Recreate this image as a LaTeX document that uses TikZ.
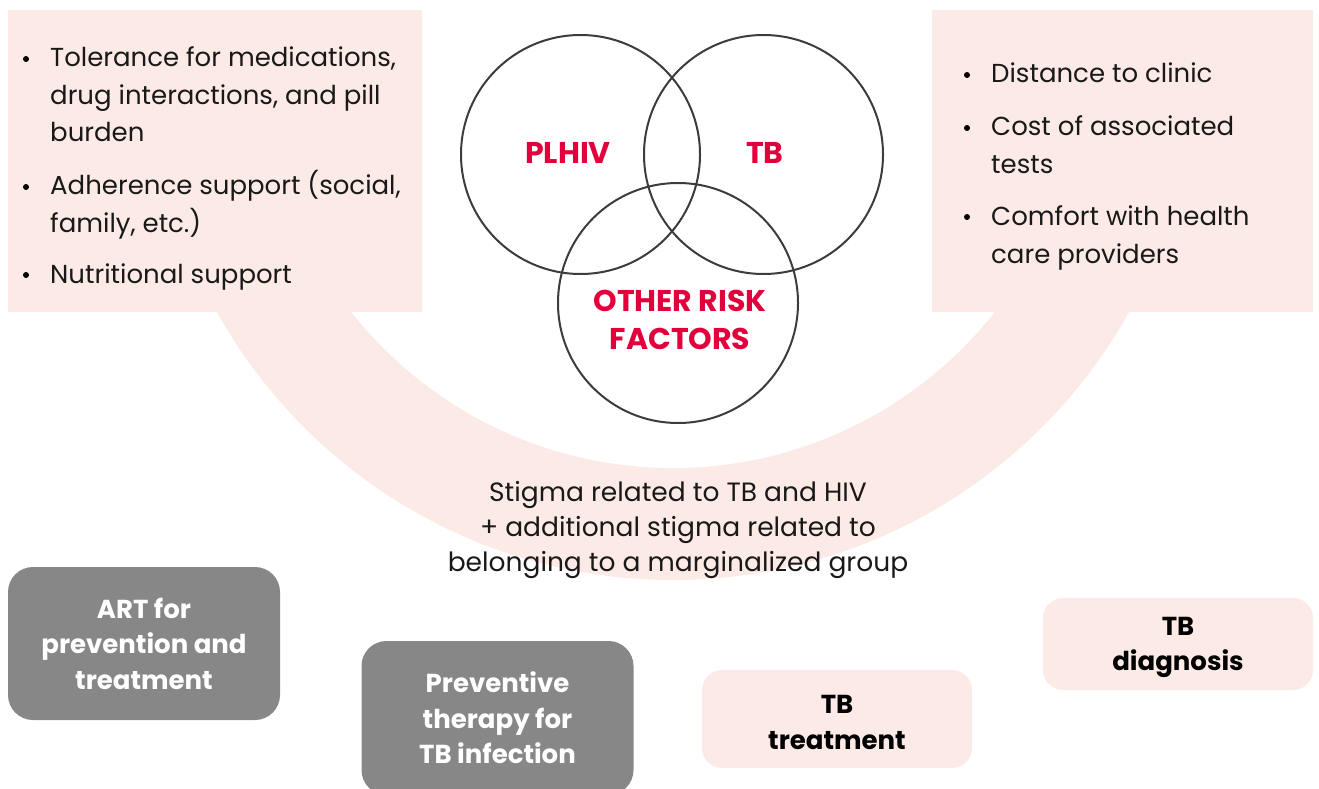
\documentclass[tikz,border=0pt]{standalone}
\usepackage{fontspec}
\setmainfont{Poppins}

\definecolor{blush}{HTML}{FCEAE6}
\definecolor{slate}{HTML}{878787}
\definecolor{crimson}{HTML}{E2003C}
\definecolor{ink}{HTML}{3C3C3C}

\tikzset{
    item/.style={anchor=base west, align=left, inner sep=0pt, text=black!90,
        font=\fontsize{26}{37.5}\selectfont},
    risk/.style={text=crimson, align=center, inner sep=0pt,
        font=\bfseries\fontsize{30}{38}\selectfont},
    venn/.style={draw=ink, line width=2pt},
    graybox/.style={fill=slate, rounded corners=25pt, text=white, align=center,
        minimum width=272pt, font=\bfseries\fontsize{26}{35.5}\selectfont},
    pinkbox/.style={fill=blush, rounded corners=20pt, text=black, align=center,
        minimum width=270pt, font=\bfseries\fontsize{26}{35.5}\selectfont},
}

\begin{document}
\begin{tikzpicture}[x=1pt, y=-1pt]
        \useasboundingbox (0,0) rectangle (1319,789);

        % stigma band, lower half of a ring
        \coordinate (hub) at (673,58);
        \begin{scope}
            \clip (0,200) rectangle (1319,789);
            \fill[blush, even odd rule] (hub) circle[radius=522] circle[radius=410];
        \end{scope}

        % side panels
        \fill[blush] (8,10) rectangle (422,312);
        \fill[blush] (932,10) rectangle (1313,312);

        % bullet at first baseline, node sits on its last baseline
        \foreach \y/\b/\t [count=\i] in {67/142/{Tolerance for medications,\\drug interactions, and pill\\burden},
                195/232/{Adherence support (social,\\family, etc.)}, 283/283/{Nutritional support}} {
            \fill (26,\y-8) circle[radius=3];
            \node[item] (drug-\i) at (50,\b) {\t};
        }
        \foreach \y/\b/\t [count=\i] in {83/83/{Distance to clinic}, 136/173/{Cost of associated\\tests},
                225/263/{Comfort with health\\care providers}} {
            \fill (967,\y-8) circle[radius=3];
            \node[item] (care-\i) at (991,\b) {\t};
        }

        % venn diagram
        \draw[venn] (580.5,154.5) circle[radius=119.5];
        \draw[venn] (763.5,154.5) circle[radius=119.5];
        \draw[venn] (678,303) circle[radius=120];
        \node[risk, anchor=base] (plhiv) at (568,164) {PLHIV};
        \node[risk, anchor=base] (tb) at (765,164) {TB};
        \node[risk, anchor=base] (other) at (680,349) {OTHER RISK\\FACTORS};

        \node[align=center, text=black!90, font=\fontsize{26.5}{35}\selectfont] (stigma) at (678,530)
            {Stigma related to TB and HIV\\+ additional stigma related to\\belonging to a marginalized group};

        % services along the bottom
        \node[graybox, minimum height=153pt] (art) at (144,643.5) {ART for\\prevention and\\treatment};
        \node[graybox, minimum height=154pt] (tpt) at (497.5,718) {Preventive\\therapy for\\TB infection};
        \node[pinkbox, minimum height=98pt] (treat) at (837,719) {\strut TB\\treatment};
        \node[pinkbox, minimum height=92pt] (diag) at (1178,644) {\strut TB\\diagnosis};
    \end{tikzpicture}
\end{document}
